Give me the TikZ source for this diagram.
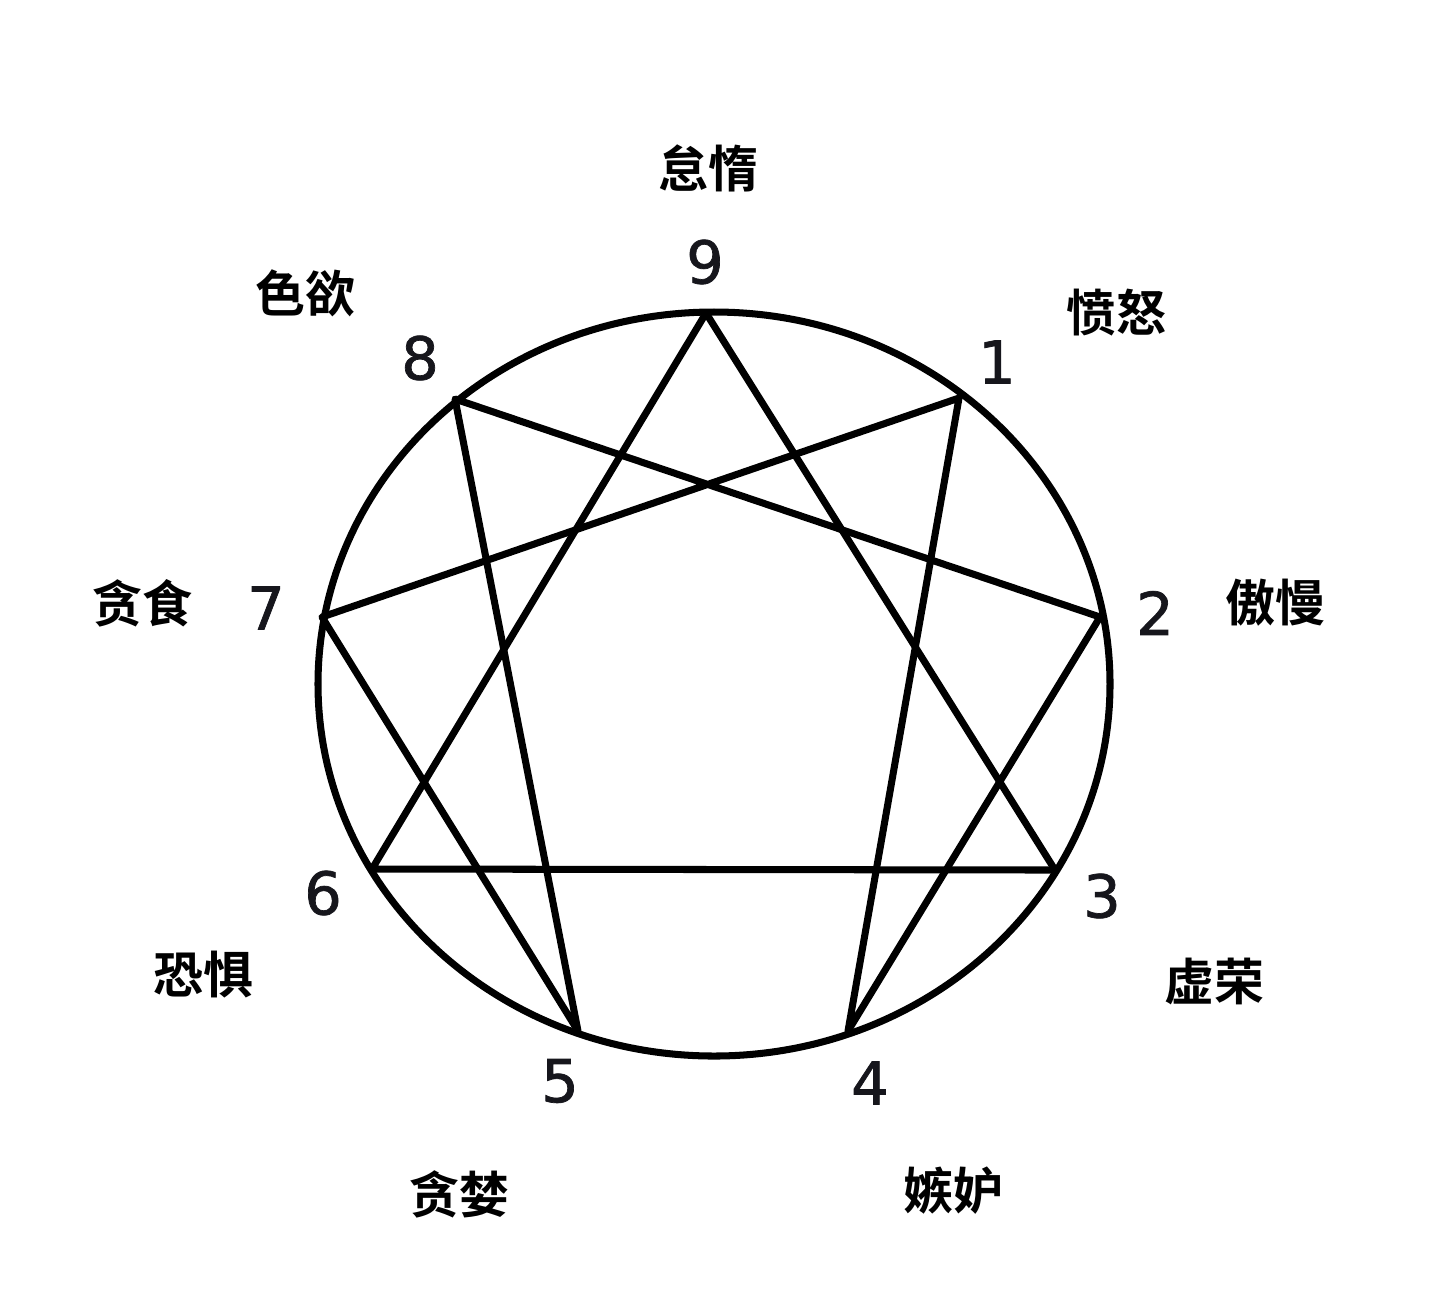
\documentclass[tikz,border=0pt]{standalone}
\usepackage{fontspec}
\newfontfamily\cjk{Noto Sans CJK SC}[BoldFont={Noto Sans CJK SC Bold}]
\newfontfamily\numfont{DejaVu Sans}[FakeBold=1.2]
\definecolor{numcol}{HTML}{16161C}
\begin{document}
\begin{tikzpicture}[x=0.01cm,y=-0.01cm,
  line/.style={line width=2pt,line join=round,line cap=round,draw=black},
  num/.style={font=\numfont\fontsize{16.8}{18}\selectfont,text=numcol,inner sep=0pt},
  sin/.style={font=\cjk\bfseries\fontsize{14.2}{16}\selectfont,inner sep=0pt}]
\useasboundingbox (0,0) rectangle (1440,1302);
\fill[white] (0,0) rectangle (1440,1302);
% circle
\draw[line] (714,684) ellipse [x radius=396, y radius=372];
% vertices
\coordinate (p9) at (706,313);
\coordinate (p1) at (959,398);
\coordinate (p2) at (1100,617);
\coordinate (p3) at (1055,870);
\coordinate (p4) at (848,1031);
\coordinate (p5) at (578,1031);
\coordinate (p6) at (372,869);
\coordinate (p7) at (322,617);
\coordinate (p8) at (455,399);
% triangle
\draw[line] (p9) -- (p3) -- (p6) -- cycle;
% hexad 1-4-2-8-5-7-1
\draw[line] (p1) -- (p4) -- (p2) -- (p8) -- (p5) -- (p7) -- cycle;
% numbers
\node[num] (n9) at (705,262) {9};
\node[num] (n1) at (997,362) {1};
\node[num] (n2) at (1155,613) {2};
\node[num] (n3) at (1102,896) {3};
\node[num] (n4) at (870,1083) {4};
\node[num] (n5) at (560,1081) {5};
\node[num] (n6) at (323,893) {6};
\node[num] (n7) at (266,608) {7};
\node[num] (n8) at (420,358) {8};
% sins
\node[sin] (s9) at (708,168) {怠惰};
\node[sin] (s1) at (1116,313) {愤怒};
\node[sin] (s2) at (1275,603) {傲慢};
\node[sin] (s3) at (1214,981) {虚荣};
\node[sin] (s4) at (953,1191) {嫉妒};
\node[sin] (s5) at (459,1194) {贪婪};
\node[sin] (s6) at (203,975) {恐惧};
\node[sin] (s7) at (142,603) {贪食};
\node[sin] (s8) at (305,293) {色欲};
\end{tikzpicture}
\end{document}
